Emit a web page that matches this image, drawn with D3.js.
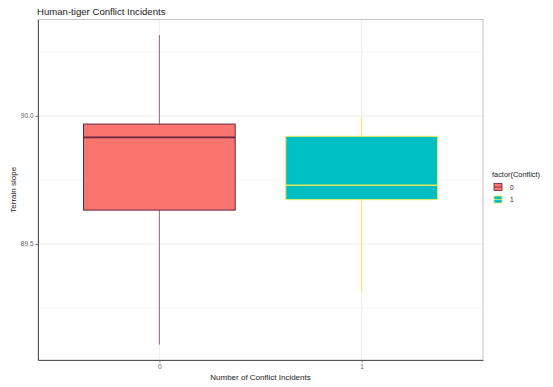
<!DOCTYPE html>
<html>
<head>
<meta charset="utf-8">
<script src="https://cdn.jsdelivr.net/npm/d3@7"></script>
<style>
  html, body { margin: 0; padding: 0; background: #fff; }
  svg { display: block; font-family: "Liberation Sans", Arial, sans-serif; }
</style>
</head>
<body>
<svg id="chart" width="553" height="387"></svg>
<script>
// Conflict groups and their box-plot summaries (terrain slope)
const categories = ["0", "1"];
const whiskerLow  = [89.107, 89.312];
const quartile1   = [89.632, 89.673];
const medians     = [89.916, 89.729];
const quartile3   = [89.968, 89.920];
const whiskerHigh = [90.316, 89.995];
const yTicks = [89.5, 90.0];
const yMinorTicks = [89.25, 89.75, 90.25];

const fills   = ["#F8766D", "#00BFC4"];
const strokes = ["#6b2444", "#e9e95a"];
const whiskerStrokes = ["#8a6a85", "#e8e45c"];

const svg = d3.select("#chart");
const panel = { left: 38, right: 483, top: 19.5, bottom: 360 };

// y domain with 5% expansion around the data extent
const lo = d3.min(whiskerLow), hi = d3.max(whiskerHigh);
const pad = (hi - lo) * 0.05;
const y = d3.scaleLinear().domain([lo - pad, hi + pad]).range([panel.bottom, panel.top]);
// discrete x positions 1..n with 0.6 expansion on each side
const x = d3.scaleLinear().domain([0.4, categories.length + 0.6]).range([panel.left, panel.right]);
const boxW = x(0.75) - x(0);

// panel background and grid
svg.append("rect").attr("x", panel.left).attr("y", panel.top)
  .attr("width", panel.right - panel.left).attr("height", panel.bottom - panel.top)
  .attr("fill", "#fff");

const grid = svg.append("g");
yMinorTicks.forEach(v => grid.append("line")
  .attr("x1", panel.left).attr("x2", panel.right).attr("y1", y(v)).attr("y2", y(v))
  .attr("stroke", "#f2f2f2").attr("stroke-width", 0.6));
yTicks.forEach(v => grid.append("line")
  .attr("x1", panel.left).attr("x2", panel.right).attr("y1", y(v)).attr("y2", y(v))
  .attr("stroke", "#ebebeb").attr("stroke-width", 0.8));
categories.forEach((c, i) => grid.append("line")
  .attr("x1", x(i + 1)).attr("x2", x(i + 1)).attr("y1", panel.top).attr("y2", panel.bottom)
  .attr("stroke", "#ebebeb").attr("stroke-width", 0.8));

// boxes
const boxes = svg.append("g");
categories.forEach((c, i) => {
  const cx = x(i + 1);
  boxes.append("line")
    .attr("x1", cx).attr("x2", cx).attr("y1", y(whiskerHigh[i])).attr("y2", y(whiskerLow[i]))
    .attr("stroke", whiskerStrokes[i]).attr("stroke-width", 1);
  boxes.append("rect")
    .attr("x", cx - boxW / 2).attr("width", boxW)
    .attr("y", y(quartile3[i])).attr("height", y(quartile1[i]) - y(quartile3[i]))
    .attr("fill", fills[i]).attr("stroke", strokes[i]).attr("stroke-width", 1);
  boxes.append("line")
    .attr("x1", cx - boxW / 2).attr("x2", cx + boxW / 2)
    .attr("y1", y(medians[i])).attr("y2", y(medians[i]))
    .attr("stroke", strokes[i]).attr("stroke-width", 1.6);
});

// panel border
svg.append("rect").attr("x", panel.left).attr("y", panel.top)
  .attr("width", panel.right - panel.left).attr("height", panel.bottom - panel.top)
  .attr("fill", "none").attr("stroke", "#b5b5b5").attr("stroke-width", 0.8);

// axes
const yAxis = svg.append("g").attr("transform", `translate(${panel.left},0)`)
  .call(d3.axisLeft(y).tickValues(yTicks).tickFormat(d3.format(".1f"))
    .tickSizeInner(2.5).tickSizeOuter(0).tickPadding(2));
const xAxis = svg.append("g").attr("transform", `translate(0,${panel.bottom})`)
  .call(d3.axisBottom(x).tickValues(categories.map((c, i) => i + 1))
    .tickFormat((d) => categories[d - 1]).tickSizeInner(2.5).tickSizeOuter(0).tickPadding(2));
[yAxis, xAxis].forEach(a => {
  a.select(".domain").attr("stroke", "#555").attr("stroke-width", 1);
  a.selectAll(".tick line").attr("stroke", "#555").attr("stroke-width", 0.8);
  a.selectAll(".tick text").attr("fill", "#666").style("font-size", "6.5px")
    .style("font-family", "'Liberation Sans', Arial, sans-serif");
});

// titles
svg.append("text").attr("x", 37).attr("y", 14.5)
  .style("font-size", "9.6px").attr("fill", "#1a1a1a").text("Human-tiger Conflict Incidents");
svg.append("text").attr("x", (panel.left + panel.right) / 2).attr("y", 380)
  .attr("text-anchor", "middle").style("font-size", "8px").attr("fill", "#1a1a1a")
  .text("Number of Conflict Incidents");
svg.append("text").attr("transform", `translate(15.5,${(panel.top + panel.bottom) / 2}) rotate(-90)`)
  .attr("text-anchor", "middle").style("font-size", "8px").attr("fill", "#1a1a1a")
  .text("Terrain slope");

// legend
const legend = svg.append("g").attr("transform", "translate(492,0)");
legend.append("text").attr("x", 0).attr("y", 177)
  .style("font-size", "7.4px").attr("fill", "#1a1a1a").text("factor(Conflict)");
categories.forEach((c, i) => {
  const ky = 183.5 + i * 12.5;
  legend.append("rect").attr("x", 2).attr("y", ky).attr("width", 8).attr("height", 7)
    .attr("fill", fills[i]).attr("stroke", strokes[i]).attr("stroke-width", 0.8);
  legend.append("line").attr("x1", 2).attr("x2", 10).attr("y1", ky + 3.5).attr("y2", ky + 3.5)
    .attr("stroke", strokes[i]).attr("stroke-width", 0.8);
  legend.append("text").attr("x", 18).attr("y", ky + 6)
    .style("font-size", "6.5px").attr("fill", "#1a1a1a").text(c);
});
</script>
</body>
</html>
